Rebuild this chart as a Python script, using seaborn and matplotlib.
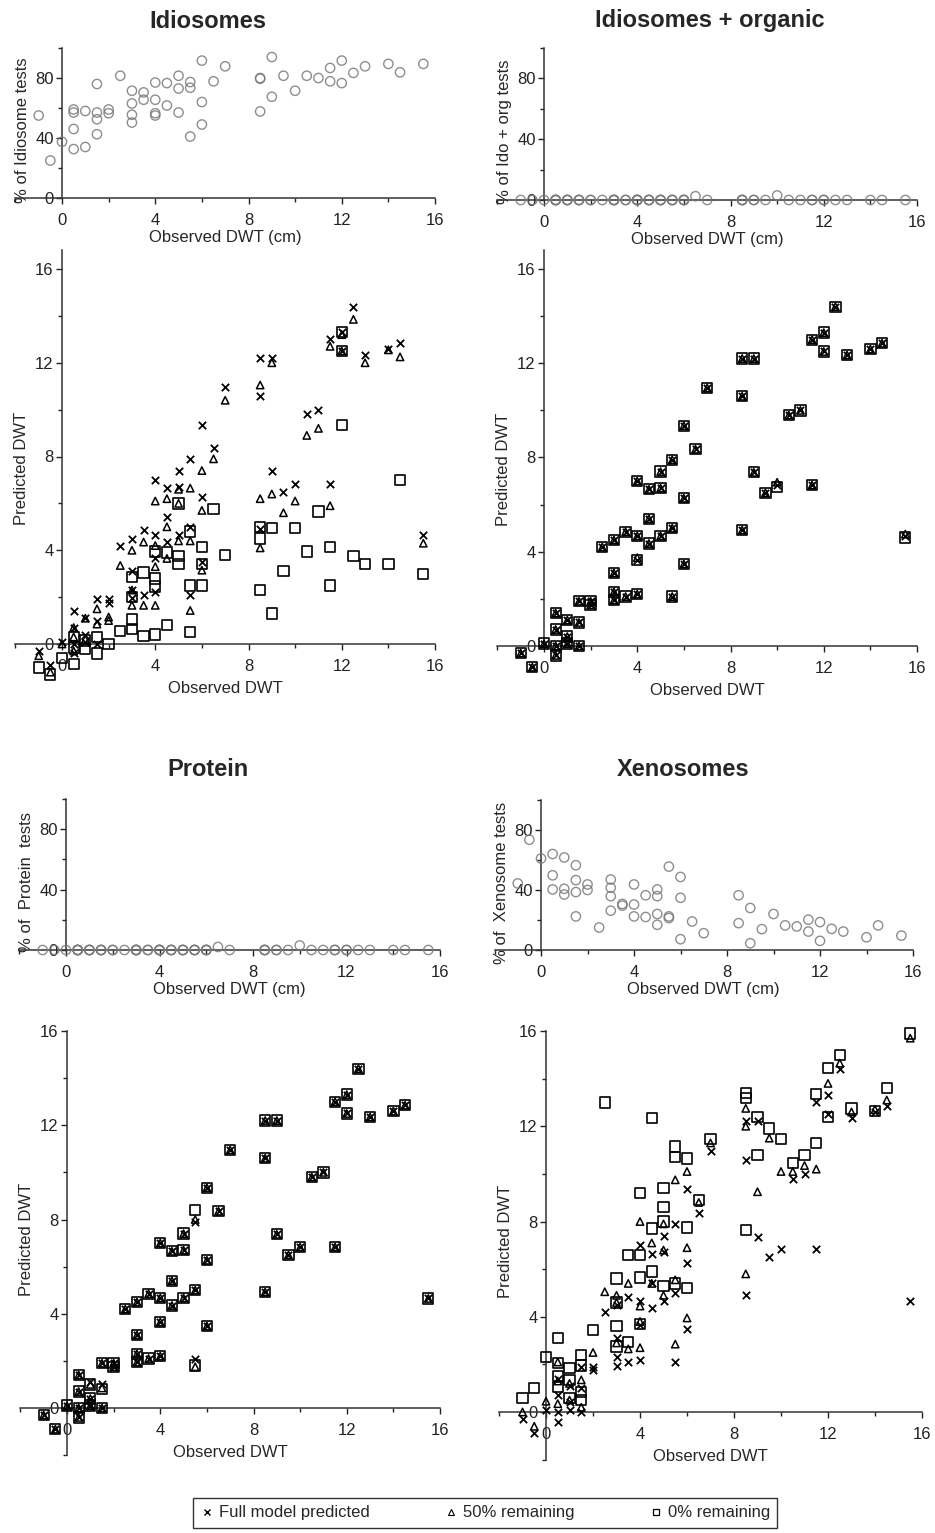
import matplotlib
matplotlib.use("Agg")
import matplotlib.pyplot as plt
from matplotlib.lines import Line2D
from matplotlib.ticker import MultipleLocator, FixedLocator
import seaborn as sns

# observed DWT (cm) and full-model predictions, shared by all four groups
obs_dwt = [-1, -0.5, 0, 0.5, 0.5, 0.5, 0.5, 1, 1, 1, 1.5, 1.5, 1.5, 2, 2, 2.5, 3, 3, 3, 3,
           3.5, 3.5, 4, 4, 4, 4, 4.5, 4.5, 4.5, 5, 5, 5, 5.5, 5.5, 5.5, 6, 6, 6, 6.5, 7,
           8.5, 8.5, 8.5, 9, 9, 9.5, 10, 10.5, 11, 11.5, 11.5, 12, 12, 12.5, 13, 14, 14.5, 15.5]
full_pred = [-0.3, -0.9, 0.1, 1.4, 0.7, 0.0, -0.4, 1.1, 0.4, 0.1, 1.9, 1.0, 0.0, 1.9, 1.75, 4.2,
             4.5, 3.1, 2.3, 1.95, 4.85, 2.1, 7.0, 4.67, 3.65, 2.2, 6.65, 5.4, 4.35, 7.4, 6.7, 4.67,
             7.9, 5.0, 2.1, 9.35, 6.27, 3.48, 8.35, 10.95, 12.2, 10.6, 4.92, 12.2, 7.37, 6.5, 6.83,
             9.8, 10.0, 13.0, 6.83, 13.3, 12.5, 14.4, 12.35, 12.6, 12.85, 4.65]

# Idiosomes
ido_pct_x = [-1, -0.5, 0, 0.5, 0.5, 0.5, 0.5, 1, 1, 1.5, 1.5, 1.5, 1.5, 2, 2, 2.5, 3, 3, 3, 3,
             3.5, 3.5, 4, 4, 4, 4, 4.5, 4.5, 5, 5, 5, 5.5, 5.5, 5.5, 6, 6, 6, 6.5, 7, 8.5, 8.5,
             8.5, 9, 9, 9.5, 10, 10.5, 11, 11.5, 11.5, 12, 12, 12.5, 13, 14, 14.5, 15.5]
ido_pct = [55, 25, 37.5, 32.6, 46, 57, 59, 34, 58, 76, 57, 52.5, 42.5, 59, 56.5, 81.5, 71.5, 63,
           55.5, 50.3, 70.4, 65.5, 77, 65.5, 56.5, 55, 76.6, 61.7, 81.5, 73, 57, 77.3, 73.5, 41,
           91.6, 64, 49, 77.8, 87.8, 80, 79.5, 57.7, 94, 67.5, 81.5, 71.5, 81.5, 80, 86.7, 77.8,
           91.6, 76.6, 83.4, 87.8, 89.4, 83.8, 89.4]
ido_half_x = [-1, -0.5, 0, 0.5, 0.5, 0.5, 1, 1, 1.5, 1.5, 2, 2, 2.5, 3, 3, 3, 3.5, 3.5, 4, 4, 4, 4,
              4.5, 4.5, 4.5, 5, 5, 5, 5.5, 5.5, 5.5, 6, 6, 6, 6.5, 7, 8.5, 8.5, 8.5, 9, 9, 9.5,
              10, 10.5, 11, 11.5, 11.5, 12, 12, 12.5, 13, 14, 14.5, 15.5]
ido_half_y = [-0.5, -1.2, 0.0, 0.7, 0.3, -0.3, 1.1, 0.2, 1.5, 0.85, 1.15, 1.0, 3.35, 4.0, 2.3,
              1.65, 4.35, 1.65, 6.1, 4.2, 3.3, 1.65, 6.2, 5.0, 3.65, 6.6, 4.4, 6.0, 6.65, 4.4,
              1.43, 7.4, 5.7, 3.15, 7.9, 10.4, 11.05, 6.2, 4.1, 12.0, 6.4, 5.6, 6.1, 8.9, 9.2,
              12.7, 5.9, 13.2, 12.5, 13.85, 12.0, 12.55, 12.25, 4.3]
ido_zero_x = [-1, -0.5, 0, 0.5, 0.5, 0.5, 1, 1, 1.5, 1.5, 2, 2.5, 3, 3, 3, 3, 3.5, 3.5, 4, 4, 4, 4,
              4.5, 4.5, 5, 5, 5, 5.5, 5.5, 5.5, 6, 6, 6, 6.5, 7, 8.5, 8.5, 8.5, 9, 9, 9.5, 10,
              10.5, 11, 11.5, 11.5, 12, 12, 12, 12.5, 13, 14, 14.5, 15.5]
ido_zero_y = [-1.0, -1.3, -0.6, -0.85, -0.15, 0.3, 0.15, -0.2, 0.3, -0.4, 0.0, 0.55, 0.65, 1.05,
              2.85, 2.0, 0.35, 3.05, 0.4, 2.8, 2.45, 3.95, 0.8, 3.9, 3.4, 3.75, 6.0, 0.5, 2.5,
              4.8, 2.5, 4.15, 3.4, 5.75, 3.8, 2.3, 4.5, 5.0, 1.3, 4.95, 3.1, 4.95, 3.95, 5.65,
              4.15, 2.5, 9.35, 13.3, 12.5, 3.75, 3.4, 3.4, 7.0, 3.0]

# Idiosomes + organic
org_pct = [0, 0, 0, 0, 0, 0, 0, 0, 0, 0, 0, 0, 0, 0, 0, 0, 0, 0, 0, 0, 0, 0, 0, 0, 0, 0, 0, 0, 0,
           0, 0, 0, 0, 0, 0, 0, 0, 0, 2.5, 0, 0, 0, 0, 0, 0, 0, 3.0, 0, 0, 0, 0, 0, 0, 0, 0, 0, 0, 0]
org_half = [-0.3, -0.9, 0.1, 1.4, 0.7, 0.0, -0.4, 1.1, 0.4, 0.1, 1.9, 1.0, 0.0, 1.9, 1.75, 4.2,
            4.5, 3.1, 2.3, 1.95, 4.85, 2.1, 7.0, 4.67, 3.75, 2.2, 6.65, 5.4, 4.35, 7.4, 6.7, 4.67,
            7.9, 5.0, 2.1, 9.35, 6.27, 3.48, 8.35, 10.95, 12.2, 10.6, 4.92, 12.2, 7.37, 6.5, 6.95,
            9.8, 10.0, 13.0, 6.83, 13.3, 12.5, 14.4, 12.35, 12.6, 12.85, 4.75]
org_zero = [-0.3, -0.9, 0.1, 1.4, 0.7, 0.0, -0.4, 1.1, 0.4, 0.1, 1.9, 1.0, 0.0, 1.9, 1.75, 4.2,
            4.5, 3.1, 2.3, 1.95, 4.85, 2.1, 7.0, 4.67, 3.65, 2.2, 6.65, 5.4, 4.35, 7.4, 6.7, 4.67,
            7.9, 5.0, 2.1, 9.35, 6.27, 3.48, 8.35, 10.95, 12.2, 10.6, 4.92, 12.2, 7.37, 6.5, 6.75,
            9.8, 10.0, 13.0, 6.83, 13.3, 12.5, 14.4, 12.35, 12.6, 12.85, 4.6]

# Protein
prot_pct = [0, 0, 0, 0, 0, 0, 0, 0, 0, 0, 0, 0, 0, 0, 0, 0, 0, 0, 0, 0, 0, 0, 0, 0, 0, 0, 0, 0, 0,
            0, 0, 0, 0, 0, 0, 0, 0, 0, 2.0, 0, 0, 0, 0, 0, 0, 0, 3.0, 0, 0, 0, 0, 0, 0, 0, 0, 0, 0, 0]
prot_half = [-0.3, -0.9, 0.1, 1.4, 0.7, 0.0, -0.4, 1.0, 0.4, 0.1, 1.9, 0.85, 0.0, 1.9, 1.75, 4.2,
             4.5, 3.1, 2.3, 1.95, 4.85, 2.1, 7.0, 4.67, 3.65, 2.2, 6.65, 5.4, 4.35, 7.4, 6.7, 4.67,
             8.0, 5.0, 1.75, 9.35, 6.27, 3.48, 8.35, 10.95, 12.2, 10.6, 4.92, 12.2, 7.37, 6.5, 6.83,
             9.8, 10.0, 13.0, 6.83, 13.3, 12.5, 14.4, 12.35, 12.6, 12.85, 4.65]
prot_zero = [-0.3, -0.9, 0.1, 1.4, 0.7, 0.0, -0.4, 1.0, 0.4, 0.1, 1.9, 0.8, 0.0, 1.9, 1.75, 4.2,
             4.5, 3.1, 2.3, 1.95, 4.85, 2.1, 7.0, 4.67, 3.65, 2.2, 6.65, 5.4, 4.35, 7.4, 6.7, 4.67,
             8.4, 5.0, 1.8, 9.35, 6.27, 3.48, 8.35, 10.95, 12.2, 10.6, 4.92, 12.2, 7.37, 6.5, 6.83,
             9.8, 10.0, 13.0, 6.83, 13.3, 12.5, 14.4, 12.35, 12.6, 12.85, 4.65]

# Xenosomes
xeno_pct_x = [-1, -0.5, 0, 0.5, 0.5, 0.5, 1, 1, 1, 1.5, 1.5, 1.5, 1.5, 2, 2, 2.5, 3, 3, 3, 3, 3.5,
              3.5, 4, 4, 4, 4.5, 4.5, 5, 5, 5, 5, 5.5, 5.5, 5.5, 6, 6, 6, 6.5, 7, 8.5, 8.5, 9, 9,
              9.5, 10, 10.5, 11, 11.5, 11.5, 12, 12, 12.5, 13, 14, 14.5, 15.5]
xeno_pct = [44.4, 73.5, 61, 64, 49.8, 40.4, 61.7, 40.8, 37, 56.5, 46.6, 38.6, 22.4, 43.7, 40, 15,
            47, 41.5, 35.9, 26.2, 30.7, 29.6, 43.7, 30.3, 22.4, 36.5, 22, 40.4, 35.9, 24, 16.8,
            55.6, 22.4, 21.3, 48.7, 34.8, 7.2, 19, 11.2, 36.5, 17.9, 28, 4.5, 13.9, 24, 16.4,
            15.7, 20.2, 12.3, 18.6, 6.1, 14.1, 12.3, 8.5, 16.4, 9.6]
xeno_half_x = [-1, -0.5, 0, 0.5, 0.5, 1, 1.5, 2, 2.5, 3, 3, 3, 3.5, 3.5, 4, 4, 4, 4.5, 5, 5, 5.5,
               5.5, 5.5, 6, 6, 6, 6.5, 7, 8.5, 8.5, 8.5, 9, 9.5, 10, 10.5, 11, 11.5, 12, 12.5, 13,
               14, 14.5, 15.5, 0.5, 1, 1.5, 4.5, 5, 4]
xeno_half_y = [0.0, -0.6, 0.45, 0.35, 2.1, 1.2, 1.35, 2.5, 5.05, 4.9, 4.6, 2.9, 5.4, 2.65, 8.0,
               4.45, 2.7, 7.1, 7.9, 6.8, 9.75, 5.55, 2.85, 10.1, 6.9, 3.95, 8.8, 11.3, 12.75,
               12.0, 5.8, 9.25, 11.5, 10.1, 10.1, 10.35, 10.2, 13.8, 14.65, 12.6, 12.7, 13.1,
               15.7, 1.3, 0.5, 0.2, 5.4, 4.9, 3.8]
xeno_zero_x = [-1, -0.5, 0, 0.5, 0.5, 0.5, 0.5, 1, 1, 1, 1.5, 1.5, 1.5, 1.5, 2, 2.5, 3, 3, 3, 3,
               3.5, 3.5, 4, 4, 4, 4, 4.5, 4.5, 4.5, 5, 5, 5, 5, 5.5, 5.5, 5.5, 6, 6, 6, 6.5, 7,
               8.5, 8.5, 8.5, 9, 9, 9.5, 10, 10.5, 11, 11.5, 11.5, 12, 12, 12.5, 13, 14, 14.5, 15.5]
xeno_zero_y = [0.6, 1.0, 2.3, 3.1, 2.05, 1.5, 1.05, 1.85, 1.35, 0.6, 2.4, 1.95, 0.85, 0.5, 3.45,
               13.0, 3.6, 4.6, 5.6, 2.75, 2.95, 6.6, 9.2, 6.6, 5.65, 3.7, 12.35, 7.7, 5.9, 9.4,
               8.6, 8.0, 5.3, 11.15, 10.7, 5.4, 10.65, 7.75, 5.2, 8.9, 11.45, 13.4, 13.2, 7.65,
               12.4, 10.8, 11.9, 11.45, 10.45, 10.8, 11.3, 13.35, 14.45, 12.4, 15.0, 12.75, 12.65,
               13.6, 15.9]

W, H = 935, 1533
sns.set_style("ticks")
plt.rcParams["font.family"] = ["Liberation Sans", "DejaVu Sans"]
plt.rcParams["axes.linewidth"] = 1.1
plt.rcParams["axes.edgecolor"] = "#333333"

fig = plt.figure(figsize=(W / 100, H / 100), dpi=100)


def make_axes(x0, x16, yv0, yp0, yv1, yp1, ylim):
    # place an axes so that data coords land on the given pixel positions
    ppx = (x16 - x0) / 16
    left = x0 - 2 * ppx
    ppy = (yp0 - yp1) / (yv1 - yv0)
    bottom = yp0 + (yv0 - ylim[0]) * ppy
    top = yp0 - (ylim[1] - yv0) * ppy
    ax = fig.add_axes([left / W, 1 - bottom / H, (x16 - left) / W, (bottom - top) / H])
    ax.set_xlim(-2, 16)
    ax.set_ylim(*ylim)
    ax.patch.set_alpha(0)
    for s in ["top", "right"]:
        ax.spines[s].set_visible(False)
    ax.spines["left"].set_position(("data", 0))
    ax.spines["bottom"].set_position(("data", 0))
    ax.spines["bottom"].set_bounds(-2, 16)
    ax.xaxis.set_major_locator(MultipleLocator(4))
    ax.xaxis.set_minor_locator(MultipleLocator(2))
    ax.tick_params(which="both", direction="out", labelsize=12, colors="#222222")
    ax.tick_params(which="major", length=4, width=1)
    ax.tick_params(which="minor", length=3, width=1)
    ax.tick_params(axis="x", pad=7)
    ax.tick_params(axis="y", pad=2)
    return ax


def pct_panel(ax, x, y, ylabel):
    sns.scatterplot(x=x, y=y, ax=ax, marker="o", s=45, facecolors="none",
                    edgecolor="#7a7a7a", linewidth=1.0, alpha=0.85, clip_on=False, zorder=3)
    ax.spines["left"].set_bounds(0, 100)
    ax.yaxis.set_major_locator(FixedLocator([0, 40, 80]))
    ax.yaxis.set_minor_locator(FixedLocator([20, 60, 100]))
    ax.set_xlabel("Observed DWT (cm)", fontsize=12, labelpad=1)
    ax.set_ylabel(ylabel, fontsize=12, labelpad=4)


def pred_panel(ax, hx, hy, zx, zy, ybounds, minor):
    sns.scatterplot(x=zx, y=zy, ax=ax, marker="s", s=55, facecolors="none",
                    edgecolor="black", linewidth=1.2, clip_on=False, zorder=3)
    sns.scatterplot(x=hx, y=hy, ax=ax, marker="^", s=28, facecolors="none",
                    edgecolor="black", linewidth=1.1, clip_on=False, zorder=3)
    sns.scatterplot(x=obs_dwt, y=full_pred, ax=ax, marker="x", s=28, color="black",
                    linewidth=1.3, clip_on=False, zorder=4)
    ax.spines["left"].set_bounds(*ybounds)
    ax.yaxis.set_major_locator(FixedLocator([0, 4, 8, 12, 16]))
    ax.yaxis.set_minor_locator(FixedLocator(minor))
    ax.set_xlabel("Observed DWT", fontsize=12, labelpad=5)
    ax.set_ylabel("Predicted DWT", fontsize=12, labelpad=4)


# row 1: percentage of tests
ax1 = make_axes(62, 435, 0, 198, 100, 48, (-10, 100))
pct_panel(ax1, ido_pct_x, ido_pct, "% of Idiosome tests")
ax2 = make_axes(544, 917, 0, 200, 100, 48, (-10, 100))
pct_panel(ax2, obs_dwt, org_pct, "% of Ido + org tests")

# row 2: predicted vs observed
ax3 = make_axes(62, 435, 0, 644, 16, 269, (-2, 17))
pred_panel(ax3, ido_half_x, ido_half_y, ido_zero_x, ido_zero_y, (0, 16.8), [2, 6, 10, 14])
ax4 = make_axes(544, 917, 0, 646, 16, 269, (-2, 17))
pred_panel(ax4, obs_dwt, org_half, obs_dwt, org_zero, (0, 16.8), [2, 6, 10, 14])

# row 3
ax5 = make_axes(66, 440, 0, 950, 100, 799, (-10, 100))
pct_panel(ax5, obs_dwt, prot_pct, "% of  Protein  tests")
ax6 = make_axes(541, 913, 0, 950, 100, 800, (-10, 100))
pct_panel(ax6, xeno_pct_x, xeno_pct, "% of  Xenosome tests")

# row 4
ax7 = make_axes(67, 440, 0, 1408, 16, 1031, (-2, 16.3))
pred_panel(ax7, obs_dwt, prot_half, obs_dwt, prot_zero, (-2, 16), [-2, 2, 6, 10, 14])
ax8 = make_axes(546, 922, 0, 1412, 16, 1031, (-2, 16.3))
pred_panel(ax8, xeno_half_x, xeno_half_y, xeno_zero_x, xeno_zero_y, (-2, 16), [-2, 2, 6, 10, 14])

for txt, (px, py) in [("Idiosomes", (208, 21)), ("Idiosomes + organic", (710, 20)),
                      ("Protein", (208, 769)), ("Xenosomes", (683, 769))]:
    fig.text(px / W, 1 - py / H, txt, ha="center", va="center",
             fontsize=17, fontweight="bold")

handles = [
    Line2D([], [], marker="x", ls="none", color="black", markersize=4, mew=1),
    Line2D([], [], marker="^", ls="none", mfc="none", mec="black", markersize=4, mew=0.8),
    Line2D([], [], marker="s", ls="none", mfc="none", mec="black", markersize=5, mew=0.9),
]
leg = fig.legend(handles, ["Full model predicted", "50% remaining", "0% remaining"],
                 loc="center", bbox_to_anchor=(485 / W, 1 - 1513 / H), ncol=3,
                 fontsize=12, frameon=True, fancybox=False, edgecolor="black",
                 handlelength=0.8, handletextpad=0.3, columnspacing=4.5,
                 borderpad=0.45, borderaxespad=0)
leg.get_frame().set_linewidth(1.0)

fig.savefig("out.png", dpi=100)
